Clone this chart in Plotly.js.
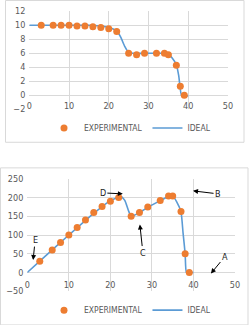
<!DOCTYPE html>
<html>
<head>
<meta charset="utf-8">
<script src="https://cdn.plot.ly/plotly-3.0.1.min.js"></script>
<style>
  html, body { margin: 0; padding: 0; background: #ffffff; }
  #chart { width: 251px; height: 325px; }
</style>
</head>
<body>
<div id="chart"></div>
<script>
// Upper panel: experimental readings and ideal curve
const topExpX = [3, 6, 8, 10, 12, 14, 16, 18, 20, 22, 25, 27, 29, 32, 34, 35, 37, 38, 39];
const topExpY = [10, 10, 10, 10, 9.9, 9.9, 9.8, 9.7, 9.5, 9.1, 6, 5.8, 6, 6, 6, 5.8, 4.3, 1.3, 0];
const topIdealX = [0, 5, 10, 15, 18, 20, 22, 23, 24, 25, 27, 30, 34, 35, 36, 37, 37.6, 38.3, 39, 40];
const topIdealY = [10, 10, 10, 10, 9.9, 9.7, 9.2, 8.3, 7, 6.1, 6, 6, 6, 5.9, 5.3, 4.4, 2.8, 0, 0, -0.1];

// Lower panel
const botExpX = [3, 6, 8, 10, 12, 14, 16, 18, 20, 22, 25, 27, 29, 32, 34, 35, 37, 38, 39];
const botExpY = [30, 60, 80, 100, 120, 140, 160, 176, 190, 200, 150, 160, 175, 192, 204, 204, 163, 50, 0];
const botIdealX = [0, 3, 10, 16, 20, 22, 22.6, 23.5, 24.3, 25, 27, 29, 32, 34, 35, 36, 37, 37.5, 38, 38.3, 39, 40];
const botIdealY = [0, 30, 100, 158, 192, 201, 203, 192, 167, 150, 160, 174, 192, 203, 204, 188, 162, 105, 50, 0, 0, 0];

const xTicks = [0, 10, 20, 30, 40, 50];
const topYTicks = [-2, 0, 2, 4, 6, 8, 10, 12];
const botYTicks = [-50, 0, 50, 100, 150, 200, 250];

// Stage labels on the lower panel: label, arrow head position, text offset from the head
const stageLabels = ['A', 'B', 'C', 'D', 'E'];
const stageHeadX = [44.2, 39.9, 27.1, 23, 1.4];
const stageHeadY = [-3, 218, 128, 210, 33];
const stageTextDx = [14, 25, 3, -20, 2];
const stageTextDy = [-17, 3, 28, -1, -20];

const W = 251, H = 325;
const px = v => v / W;
const py = v => 1 - v / H;

const ORANGE = '#ED7D31';
const BLUE = '#5B9BD5';
const GRID = '#d9d9d9';
const TXT = '#595959';
const FONT = '"Liberation Sans Narrow", "DejaVu Sans Condensed", "Liberation Sans", sans-serif';

const traces = [
  { x: topIdealX, y: topIdealY, xaxis: 'x', yaxis: 'y', mode: 'lines', name: 'IDEAL',
    line: { color: BLUE, width: 1.6, shape: 'spline', smoothing: 0.5 }, legend: 'legend', legendrank: 2 },
  { x: topExpX, y: topExpY, xaxis: 'x', yaxis: 'y', mode: 'markers', name: 'EXPERIMENTAL',
    marker: { color: ORANGE, size: 7 }, legend: 'legend', legendrank: 1 },
  { x: botIdealX, y: botIdealY, xaxis: 'x2', yaxis: 'y2', mode: 'lines', name: 'IDEAL',
    line: { color: BLUE, width: 1.6, shape: 'spline', smoothing: 0.5 }, legend: 'legend2', legendrank: 2 },
  { x: botExpX, y: botExpY, xaxis: 'x2', yaxis: 'y2', mode: 'markers', name: 'EXPERIMENTAL',
    marker: { color: ORANGE, size: 7 }, legend: 'legend2', legendrank: 1 }
];

const axisCommon = {
  showgrid: true, gridcolor: GRID, gridwidth: 1, zeroline: false, showline: false,
  ticks: '', tickfont: { family: FONT, size: 9, color: TXT }, fixedrange: true
};

const annotations = stageLabels.map((t, i) => ({
  xref: 'x2', yref: 'y2', x: stageHeadX[i], y: stageHeadY[i], text: t,
  showarrow: true, arrowhead: 2, arrowsize: 1, arrowwidth: 1, arrowcolor: '#000',
  ax: stageTextDx[i], ay: stageTextDy[i], standoff: 0,
  font: { family: FONT, size: 9, color: '#222' }
}));

const legendCommon = {
  orientation: 'h', xref: 'paper', yref: 'paper', xanchor: 'center', yanchor: 'middle',
  font: { family: FONT, size: 8.5, color: TXT }, itemwidth: 30, bgcolor: 'rgba(0,0,0,0)',
  traceorder: 'normal'
};

const layout = {
  width: W, height: H,
  margin: { l: 0, r: 0, t: 0, b: 0 },
  paper_bgcolor: '#ffffff', plot_bgcolor: 'rgba(0,0,0,0)',
  showlegend: true,
  xaxis: Object.assign({}, axisCommon, {
    domain: [px(29.3), px(228)], range: [0, 50], tickvals: xTicks,
    anchor: 'free', position: py(101)
  }),
  yaxis: Object.assign({}, axisCommon, {
    domain: [py(111), py(11.5)], range: [-2, 12], tickvals: topYTicks, anchor: 'x',
    ticklabelstandoff: 3
  }),
  xaxis2: Object.assign({}, axisCommon, {
    domain: [px(27.3), px(235)], range: [0, 50], tickvals: xTicks,
    anchor: 'free', position: py(282.5)
  }),
  yaxis2: Object.assign({}, axisCommon, {
    domain: [py(295.7), py(181.7)], range: [-50, 250], tickvals: botYTicks, anchor: 'x2',
    ticklabelstandoff: 3
  }),
  legend: Object.assign({}, legendCommon, { x: px(130), y: py(130) }),
  legend2: Object.assign({}, legendCommon, { x: px(130), y: py(315) }),
  annotations: annotations,
  shapes: [
    { type: 'rect', xref: 'paper', yref: 'paper', layer: 'below',
      x0: px(5.5), x1: px(244), y0: py(144.5), y1: py(0.5),
      line: { color: GRID, width: 1 }, fillcolor: '#ffffff' },
    { type: 'rect', xref: 'paper', yref: 'paper', layer: 'below',
      x0: px(0.5), x1: px(248), y0: py(330), y1: py(170.5),
      line: { color: GRID, width: 1 }, fillcolor: '#ffffff' }
  ]
};

Plotly.newPlot('chart', traces, layout, { displayModeBar: false, staticPlot: true });
</script>
</body>
</html>
